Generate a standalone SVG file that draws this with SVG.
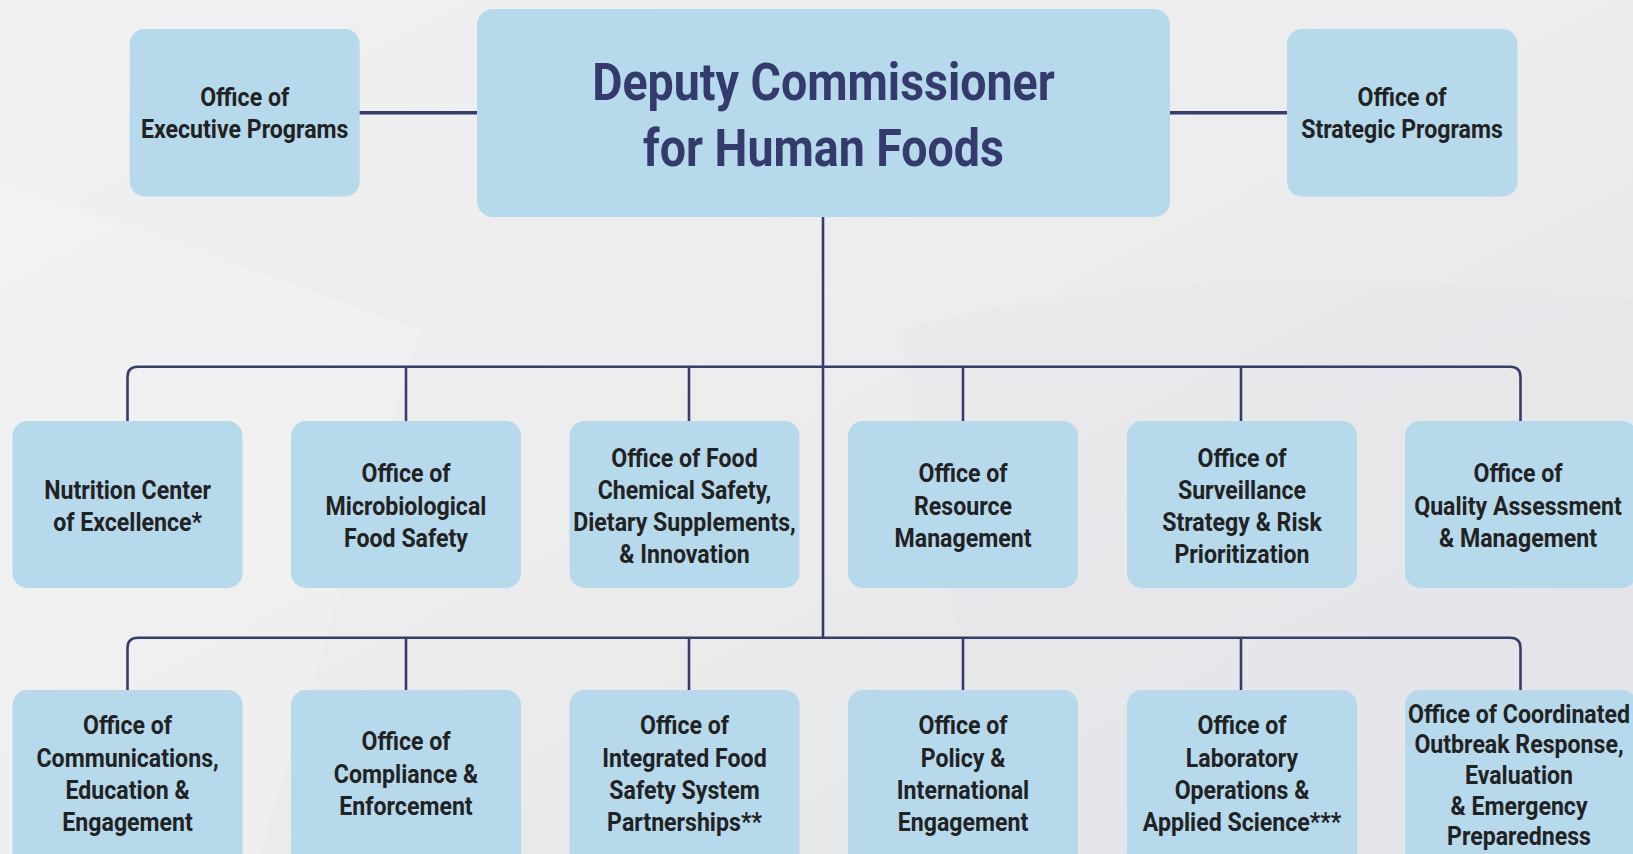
<svg xmlns="http://www.w3.org/2000/svg" width="1633" height="854" viewBox="0 0 1633 854">
<defs>
<linearGradient id="bg" x1="0" y1="0" x2="1" y2="1">
<stop offset="0" stop-color="#f1f1f1"/>
<stop offset="0.5" stop-color="#ececec"/>
<stop offset="1" stop-color="#e2e4e7"/>
</linearGradient>
<style>
.box{fill:#b6d9ec}
.ln{fill:none;stroke:#363c6e;stroke-width:2.6}
.lt{fill:none;stroke:#363c6e;stroke-width:3.6}
.t{font-family:Roboto,"Liberation Sans",sans-serif;font-weight:700;font-size:25px;fill:#222222;text-anchor:middle}
.title{font-family:Roboto,"Liberation Sans",sans-serif;font-weight:700;font-size:52px;fill:#343b6c;text-anchor:middle}
</style>
</defs>
<rect width="1633" height="854" fill="url(#bg)"/>
<path d="M0 180 L420 330 L260 854 L0 854 Z" fill="#f3f3f3" opacity="0.45"/>
<path d="M900 330 Q1200 250 1633 300 L1633 854 L1000 854 Z" fill="#e3e6ea" opacity="0.3"/>

<g id="connectors">
<line class="lt" x1="359" y1="112.7" x2="478" y2="112.7"/>
<line class="lt" x1="1169" y1="112.7" x2="1288" y2="112.7"/>
<line class="ln" x1="823" y1="216" x2="823" y2="638"/>
<path class="ln" d="M127.5 421 V377 Q127.5 366.7 138 366.7 H1510 Q1520.5 366.7 1520.5 377 V421"/>
<line class="ln" x1="406" y1="366.7" x2="406" y2="421"/>
<line class="ln" x1="689" y1="366.7" x2="689" y2="421"/>
<line class="ln" x1="963" y1="366.7" x2="963" y2="421"/>
<line class="ln" x1="1241" y1="366.7" x2="1241" y2="421"/>
<path class="ln" d="M127.5 690 V648 Q127.5 637.7 138 637.7 H1510 Q1520.5 637.7 1520.5 648 V690"/>
<line class="ln" x1="406" y1="637.7" x2="406" y2="690"/>
<line class="ln" x1="689" y1="637.7" x2="689" y2="690"/>
<line class="ln" x1="963" y1="637.7" x2="963" y2="690"/>
<line class="ln" x1="1241" y1="637.7" x2="1241" y2="690"/>
</g>

<g id="main">
<rect class="box" x="477" y="9" width="693" height="208" rx="16"/>
<text class="title" transform="matrix(0.895 0 0 1 823.5 0)"><tspan x="0" y="100">Deputy Commissioner</tspan><tspan x="0" y="166">for Human Foods</tspan></text>
</g>
<g id="exec">
<rect class="box" x="129.7" y="29" width="230" height="167.5" rx="15"/>
<text class="t" transform="matrix(0.925 0 0 1 244.7 0)"><tspan x="0" y="106.5">Office of</tspan><tspan x="0" y="138.3">Executive Programs</tspan></text>
</g>
<g id="strategic">
<rect class="box" x="1287" y="29" width="230.5" height="167.5" rx="15"/>
<text class="t" transform="matrix(0.925 0 0 1 1402 0)"><tspan x="0" y="106.5">Office of</tspan><tspan x="0" y="138.3">Strategic Programs</tspan></text>
</g>

<g id="r1c1">
<rect class="box" x="12.5" y="421" width="230" height="167" rx="15"/>
<text class="t" transform="matrix(0.925 0 0 1 127.6 0)"><tspan x="0" y="499">Nutrition Center</tspan><tspan x="0" y="531">of Excellence*</tspan></text>
</g>
<g id="r1c2">
<rect class="box" x="291" y="421" width="230" height="167" rx="15"/>
<text class="t" transform="matrix(0.925 0 0 1 406 0)"><tspan x="0" y="482.5">Office of</tspan><tspan x="0" y="514.8">Microbiological</tspan><tspan x="0" y="547">Food Safety</tspan></text>
</g>
<g id="r1c3">
<rect class="box" x="569.5" y="421" width="230" height="167" rx="15"/>
<text class="t" transform="matrix(0.925 0 0 1 684.5 0)"><tspan x="0" y="466.7">Office of Food</tspan><tspan x="0" y="499">Chemical Safety,</tspan><tspan x="0" y="531.3">Dietary Supplements,</tspan><tspan x="0" y="563.5">&amp; Innovation</tspan></text>
</g>
<g id="r1c4">
<rect class="box" x="848" y="421" width="230" height="167" rx="15"/>
<text class="t" transform="matrix(0.925 0 0 1 963 0)"><tspan x="0" y="482.5">Office of</tspan><tspan x="0" y="514.8">Resource</tspan><tspan x="0" y="547">Management</tspan></text>
</g>
<g id="r1c5">
<rect class="box" x="1127" y="421" width="230" height="167" rx="15"/>
<text class="t" transform="matrix(0.925 0 0 1 1242 0)"><tspan x="0" y="466.7">Office of</tspan><tspan x="0" y="499">Surveillance</tspan><tspan x="0" y="531.3">Strategy &amp; Risk</tspan><tspan x="0" y="563.5">Prioritization</tspan></text>
</g>
<g id="r1c6">
<rect class="box" x="1405" y="421" width="232" height="167" rx="15"/>
<text class="t" transform="matrix(0.925 0 0 1 1518 0)"><tspan x="0" y="482.5">Office of</tspan><tspan x="0" y="514.8">Quality Assessment</tspan><tspan x="0" y="547">&amp; Management</tspan></text>
</g>

<g id="r2c1">
<rect class="box" x="12.5" y="690" width="230" height="180" rx="15"/>
<text class="t" transform="matrix(0.925 0 0 1 127.6 0)"><tspan x="0" y="734.3">Office of</tspan><tspan x="0" y="766.7">Communications,</tspan><tspan x="0" y="799">Education &amp;</tspan><tspan x="0" y="831.3">Engagement</tspan></text>
</g>
<g id="r2c2">
<rect class="box" x="291" y="690" width="230" height="180" rx="15"/>
<text class="t" transform="matrix(0.925 0 0 1 406 0)"><tspan x="0" y="750.5">Office of</tspan><tspan x="0" y="782.7">Compliance &amp;</tspan><tspan x="0" y="815">Enforcement</tspan></text>
</g>
<g id="r2c3">
<rect class="box" x="569.5" y="690" width="230" height="180" rx="15"/>
<text class="t" transform="matrix(0.925 0 0 1 684.5 0)"><tspan x="0" y="734.3">Office of</tspan><tspan x="0" y="766.7">Integrated Food</tspan><tspan x="0" y="799">Safety System</tspan><tspan x="0" y="831.3">Partnerships**</tspan></text>
</g>
<g id="r2c4">
<rect class="box" x="848" y="690" width="230" height="180" rx="15"/>
<text class="t" transform="matrix(0.925 0 0 1 963 0)"><tspan x="0" y="734.3">Office of</tspan><tspan x="0" y="766.7">Policy &amp;</tspan><tspan x="0" y="799">International</tspan><tspan x="0" y="831.3">Engagement</tspan></text>
</g>
<g id="r2c5">
<rect class="box" x="1127" y="690" width="230" height="180" rx="15"/>
<text class="t" transform="matrix(0.925 0 0 1 1242 0)"><tspan x="0" y="734.3">Office of</tspan><tspan x="0" y="766.7">Laboratory</tspan><tspan x="0" y="799">Operations &amp;</tspan><tspan x="0" y="831.3">Applied Science***</tspan></text>
</g>
<g id="r2c6">
<rect class="box" x="1405" y="690" width="232" height="180" rx="15"/>
<text class="t" transform="matrix(0.925 0 0 1 1519 0)"><tspan x="0" y="722.7">Office of Coordinated</tspan><tspan x="0" y="753.3">Outbreak Response,</tspan><tspan x="0" y="784">Evaluation</tspan><tspan x="0" y="814.7">&amp; Emergency</tspan><tspan x="0" y="845.3">Preparedness</tspan></text>
</g>
</svg>
